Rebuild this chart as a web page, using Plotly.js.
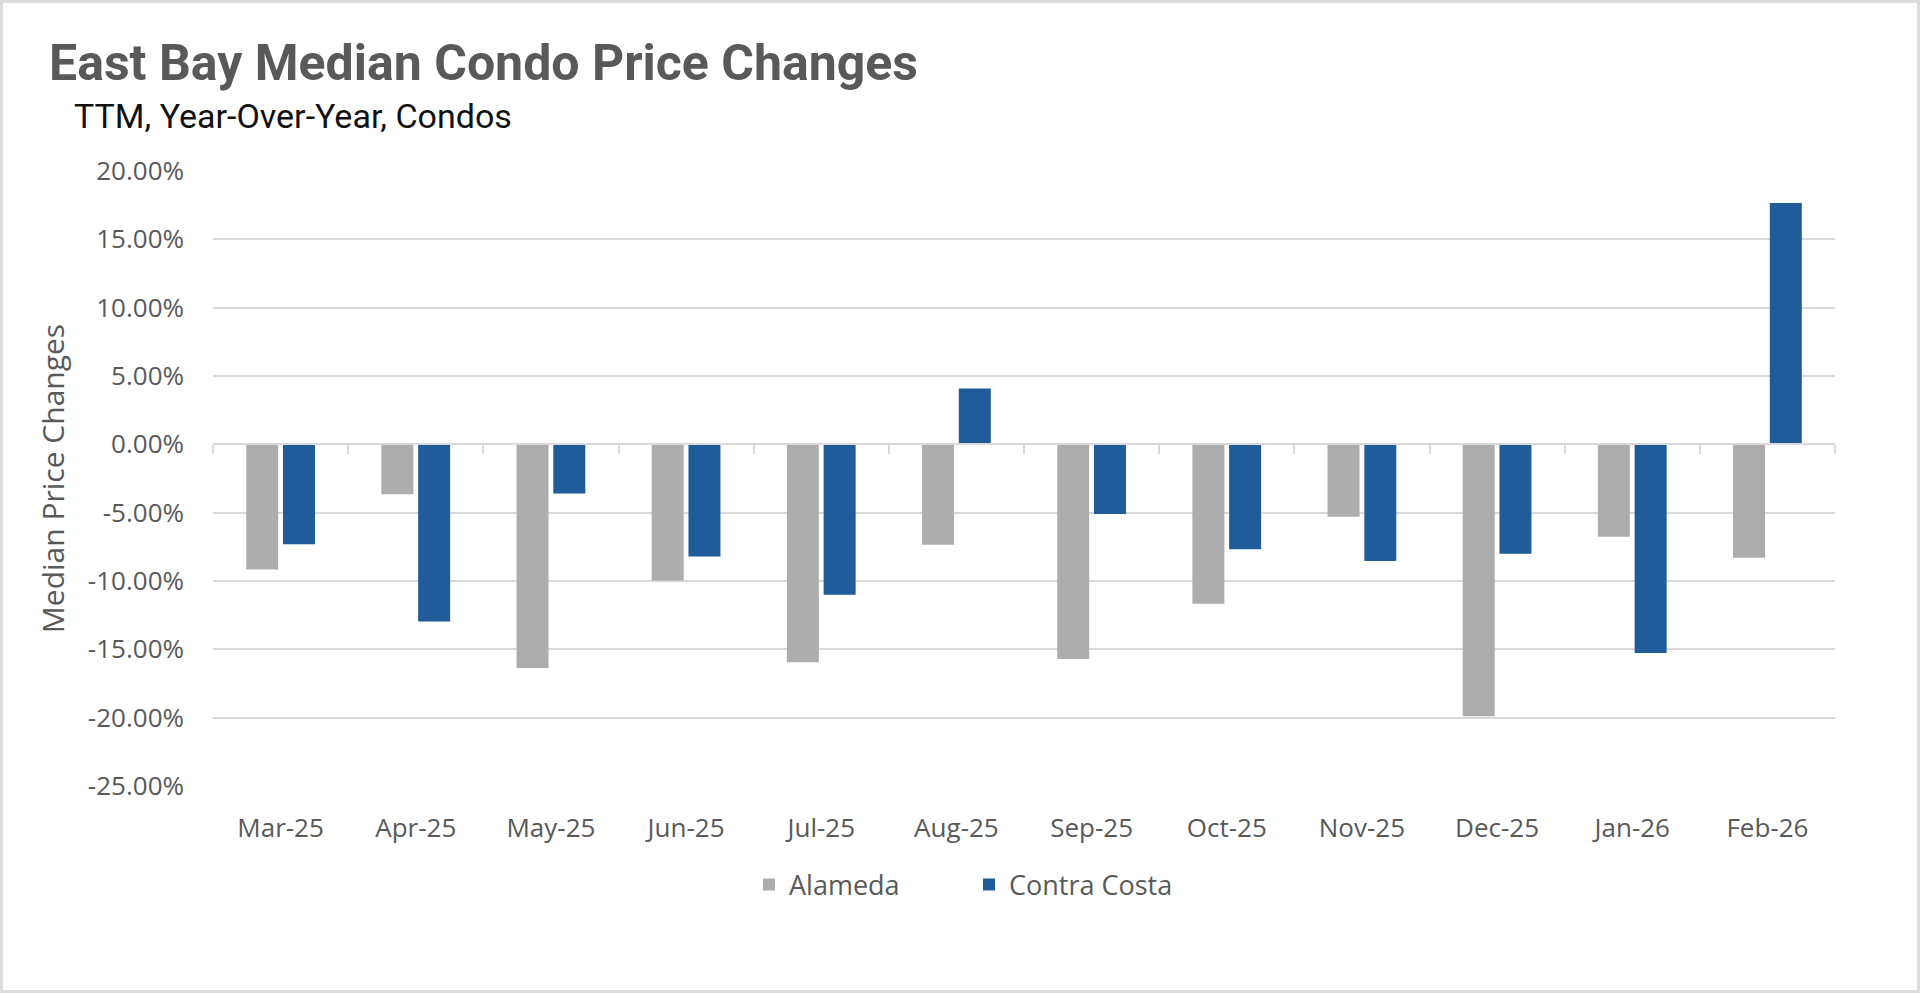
<!DOCTYPE html>
<html>
<head>
<meta charset="utf-8">
<script src="https://cdn.plot.ly/plotly-3.0.1.min.js"></script>
<style>
  html, body { margin: 0; padding: 0; background: #fff; }
  #wrap { position: relative; width: 1920px; height: 993px; }
  #chart { width: 1920px; height: 993px; }
  #frame { position: absolute; left: 0; top: 0; width: 1920px; height: 993px; box-sizing: border-box; border: 3px solid #DCDCDC; pointer-events: none; }
</style>
</head>
<body>
<div id="wrap"><div id="chart"></div><div id="frame"></div></div>
<script>
// ---- data ----
const months = ["Mar-25","Apr-25","May-25","Jun-25","Jul-25","Aug-25","Sep-25","Oct-25","Nov-25","Dec-25","Jan-26","Feb-26"];
const alameda = [-0.0915, -0.0366, -0.1637, -0.0997, -0.1595, -0.0735, -0.1570, -0.1167, -0.0529, -0.1990, -0.0676, -0.0830];
const contraCosta = [-0.0732, -0.1297, -0.0360, -0.0820, -0.1101, 0.0408, -0.0510, -0.0767, -0.0853, -0.0800, -0.1526, 0.1765];
const seriesNames = ["Alameda", "Contra Costa"];
const yRange = [-0.25, 0.20];
const yTicks = [-0.25, -0.20, -0.15, -0.10, -0.05, 0, 0.05, 0.10, 0.15, 0.20];
const yTickLabels = yTicks.map(v => (v * 100).toFixed(2) + "%");

const titleText = "East Bay Median Condo Price Changes";
const subtitleText = "TTM, Year-Over-Year, Condos";
const yTitleText = "Median Price Changes";

const grey = "#ADADAD";
const blue = "#1F5C99";
const textGrey = "#595959";
const gridGrey = "#D9D9D9";
const tickFont = { family: "Open Sans, Roboto, sans-serif", size: 26, color: textGrey };

const traces = [
  { type: "bar", name: seriesNames[0], x: months, y: alameda, marker: { color: grey }, hovertemplate: "%{x}: %{y:.2%}<extra>" + seriesNames[0] + "</extra>" },
  { type: "bar", name: seriesNames[1], x: months, y: contraCosta, marker: { color: blue }, hovertemplate: "%{x}: %{y:.2%}<extra>" + seriesNames[1] + "</extra>" },
  // invisible helper trace so the zero-line category axis (with boundary ticks) is drawn
  { type: "scatter", mode: "markers", x: months, y: months.map(() => null), xaxis: "x2", yaxis: "y", showlegend: false, hoverinfo: "skip" }
];

const zeroPos = -yRange[0] / (yRange[1] - yRange[0]);

const layout = {
  width: 1920, height: 993,
  paper_bgcolor: "#fff", plot_bgcolor: "#fff",
  margin: { l: 213, r: 85, t: 171, b: 207 },
  barmode: "group",
  bargap: 0.456,
  bargroupgap: 0.13,
  title: {
    text: "<b>" + titleText + "</b>",
    xref: "container", yref: "container",
    x: 49 / 1920, xanchor: "left",
    y: 1 - 62 / 993, yanchor: "middle",
    font: { family: "Roboto, sans-serif", size: 50, color: textGrey }
  },
  annotations: [{
    text: subtitleText, showarrow: false,
    xref: "paper", yref: "paper",
    x: (72 - 213) / 1622, xanchor: "left",
    y: (786 - 116) / 615, yanchor: "middle",
    font: { family: "Roboto, sans-serif", size: 34, color: "#111" }
  }],
  xaxis: {
    type: "category", categoryorder: "array", categoryarray: months,
    range: [-0.5, months.length - 0.5],
    showgrid: false, showline: false, zeroline: false, ticks: "",
    tickfont: tickFont, ticklabelstandoff: 24, fixedrange: true
  },
  xaxis2: {
    type: "category", categoryorder: "array", categoryarray: months,
    range: [-0.5, months.length - 0.5],
    overlaying: "x", anchor: "free", position: zeroPos, side: "bottom",
    showline: true, linecolor: gridGrey, linewidth: 2,
    ticks: "outside", tickson: "boundaries", ticklen: 9, tickwidth: 2, tickcolor: gridGrey,
    showticklabels: false, showgrid: false, zeroline: false, fixedrange: true
  },
  yaxis: {
    range: yRange, tickmode: "array", tickvals: yTicks, ticktext: yTickLabels,
    showgrid: true, gridcolor: gridGrey, gridwidth: 1.5,
    zeroline: false, showline: false, ticks: "",
    tickfont: tickFont, ticklabelstandoff: 28,
    title: { text: yTitleText, font: { family: "Open Sans, Roboto, sans-serif", size: 30, color: textGrey }, standoff: 14 },
    fixedrange: true
  },
  legend: {
    orientation: "h",
    x: (969 - 213) / 1622, xanchor: "center",
    y: (786 - 885) / 615, yanchor: "middle",
    font: { family: "Open Sans, Roboto, sans-serif", size: 27, color: textGrey },
    itemwidth: 30, traceorder: "normal",
    entrywidth: 175, entrywidthmode: "pixels"
  },
  showlegend: true
};

Plotly.newPlot("chart", traces, layout, { displayModeBar: false, responsive: false });
</script>
</body>
</html>
